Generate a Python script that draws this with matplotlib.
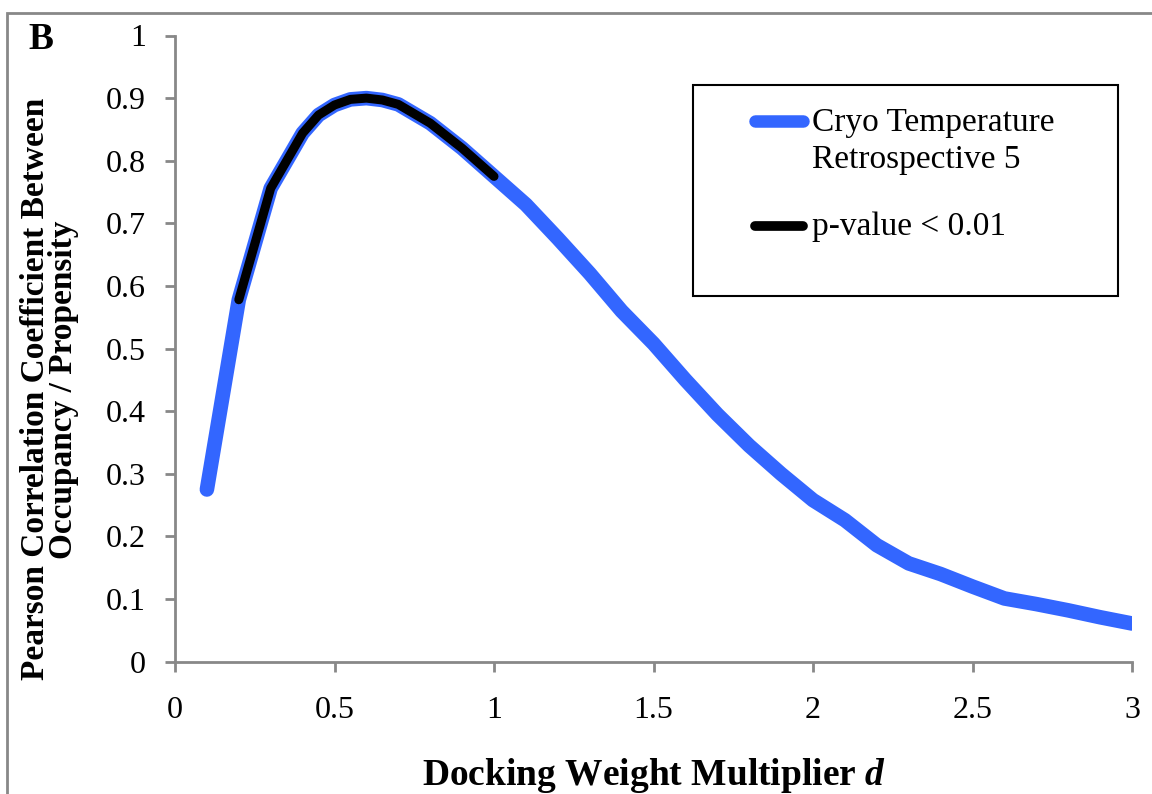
import matplotlib
matplotlib.use("Agg")
import matplotlib.pyplot as plt
from matplotlib.patches import Rectangle
from matplotlib.lines import Line2D

plt.rcParams['font.family'] = ['Liberation Serif', 'DejaVu Serif']
plt.rcParams['mathtext.fontset'] = 'custom'
plt.rcParams['mathtext.rm'] = 'Liberation Serif'
plt.rcParams['mathtext.it'] = 'Liberation Serif:italic'
plt.rcParams['mathtext.bf'] = 'Liberation Serif:bold'
plt.rcParams['mathtext.bfit'] = 'Liberation Serif:italic:bold'

# Pearson correlation vs docking weight multiplier d
d_all = [0.1, 0.2, 0.3, 0.4, 0.45, 0.5, 0.55, 0.6, 0.65, 0.7, 0.8, 0.9, 1.0,
         1.1, 1.2, 1.3, 1.4, 1.5, 1.6, 1.7, 1.8, 1.9, 2.0,
         2.1, 2.2, 2.3, 2.4, 2.5, 2.6, 2.7, 2.8, 2.9, 3.0]
r_all = [0.275, 0.578, 0.756, 0.844, 0.873, 0.889, 0.898, 0.900, 0.897, 0.890, 0.860, 0.820, 0.775,
         0.730, 0.676, 0.620, 0.560, 0.508, 0.450, 0.395, 0.345, 0.300, 0.258,
         0.226, 0.186, 0.157, 0.140, 0.120, 0.101, 0.092, 0.082, 0.071, 0.061]

# significant part (p < 0.01)
d_sig = d_all[1:13]
r_sig = r_all[1:13]

labels = ['Cryo Temperature\nRetrospective 5', 'p-value < 0.01']
xticks = [0, 0.5, 1, 1.5, 2, 2.5, 3]
yticks = [0, 0.1, 0.2, 0.3, 0.4, 0.5, 0.6, 0.7, 0.8, 0.9, 1]

blue = '#3366ff'
axis_gray = '#888888'

W, H = 1152, 794
fig = plt.figure(figsize=(W / 100, H / 100), dpi=100)
ax = fig.add_axes([175 / W, 1 - 661.7 / H, (1132 - 175) / W, (661.7 - 35.5) / H])

ax.plot(d_all, r_all, color=blue, lw=10.5, solid_capstyle='round', solid_joinstyle='round')
ax.plot(d_sig, r_sig, color='black', lw=6.5, solid_capstyle='round', solid_joinstyle='round')

ax.set_xlim(0, 3)
ax.set_ylim(0, 1)
ax.set_xticks(xticks)
ax.set_xticklabels([('%g' % v) for v in xticks])
ax.set_yticks(yticks)
ax.set_yticklabels([('%g' % v) for v in yticks])

for s in ['top', 'right']:
    ax.spines[s].set_visible(False)
for s in ['left', 'bottom']:
    ax.spines[s].set_color(axis_gray)
    ax.spines[s].set_linewidth(2)
ax.tick_params(axis='both', colors=axis_gray, width=2, length=7, labelsize=23, labelcolor='black')
ax.tick_params(axis='y', pad=14)
ax.tick_params(axis='x', pad=18)

ax.set_xlabel('Docking Weight Multiplier $\\mathbfit{d}$', fontsize=27, fontweight='bold')
ax.xaxis.set_label_coords(0.5, -0.15)
ax.set_ylabel('Pearson Correlation Coefficient Between\nOccupancy / Propensity',
              fontsize=24, fontweight='bold', linespacing=0.88)
ax.yaxis.set_label_coords(-0.1, 0.435)

# legend, drawn by hand so the handle sits on the first text line
fig.patches.append(Rectangle((693 / W, 1 - 296 / H), (1118 - 693) / W, (296 - 85) / H,
                             transform=fig.transFigure, fill=False, edgecolor='black', lw=1.5))
fig.add_artist(Line2D([755 / W, 803 / W], [1 - 121 / H, 1 - 121 / H], transform=fig.transFigure,
                      color=blue, lw=9, solid_capstyle='round'))
fig.add_artist(Line2D([755 / W, 803 / W], [1 - 226 / H, 1 - 226 / H], transform=fig.transFigure,
                      color='black', lw=7, solid_capstyle='round'))
line1, line2 = labels[0].split('\n')
fig.text(812 / W, 1 - 131 / H, line1, fontsize=24, va='baseline')
fig.text(812 / W, 1 - 168 / H, line2, fontsize=24, va='baseline')
fig.text(812 / W, 1 - 235 / H, labels[1], fontsize=24, va='baseline')

# outer frame of the panel
fig.patches.append(Rectangle((7 / W, -0.1), 1.2, 1 - 13 / H + 0.1, transform=fig.transFigure,
                             fill=False, edgecolor=axis_gray, lw=2))

fig.text(28 / W, 1 - 49 / H, 'B', fontsize=27, fontweight='bold')

fig.savefig('out.png', dpi=100)
